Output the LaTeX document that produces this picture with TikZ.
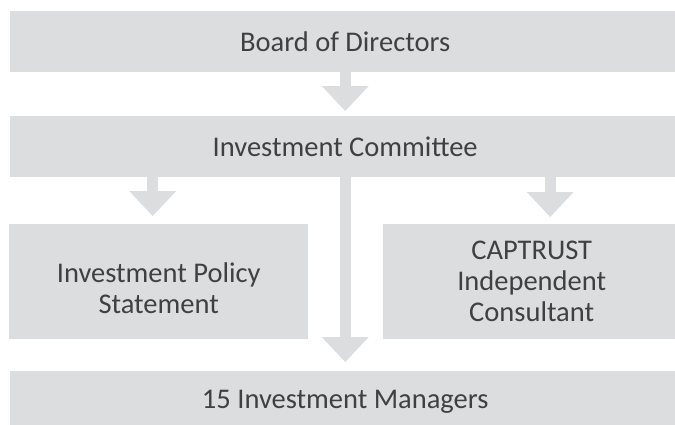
\documentclass[tikz,border=0pt]{standalone}
\usepackage{fontspec}
\setmainfont{Carlito}
\usepackage{tikz}
\usepackage{xcolor}
\usetikzlibrary{arrows.meta,calc}
\definecolor{boxgray}{HTML}{DCDDDF}
\definecolor{textgray}{HTML}{404040}

\begin{document}
\begin{tikzpicture}[x=1pt,y=-1pt]
\tikzstyle{box}=[rectangle,fill=boxgray,text=textgray,inner sep=0pt,align=center,font=\fontsize{28.5}{31}\selectfont,anchor=north west]
\tikzstyle{flow}=[draw=boxgray,line width=11pt,-{Triangle[width=47pt,length=25pt,line width=0pt]}]

\useasboundingbox (0,0) rectangle (675,424);

\node[box,minimum width=670pt,minimum height=61pt](Board) at (10,11){Board of Directors};
\node[box,minimum width=670pt,minimum height=61pt](Committee) at (10,116){Investment Committee};
\node[box,minimum width=299pt,minimum height=115pt](Policy) at (9,224){\rule{0pt}{32pt}Investment Policy\\Statement};
\node[box,minimum width=297pt,minimum height=115pt](Consultant) at (383,224){CAPTRUST\\Independent\\Consultant};
\node[box,minimum width=670pt,minimum height=62pt](Managers) at (10,371){15 Investment Managers};
\draw[flow,shorten >=5pt] (Board.south) -- (Committee.north);
\draw[flow,shorten >=8pt] ($(Policy.north |- Committee.south)+(-6,0)$) -- ($(Policy.north)+(-6,0)$);
\draw[flow,shorten >=7pt] ($(Consultant.north |- Committee.south)+(18.5,0)$) -- ($(Consultant.north)+(18.5,0)$);
\draw[flow,shorten >=9pt] (Committee.south) -- (Managers.north);

\end{tikzpicture}
\end{document}
